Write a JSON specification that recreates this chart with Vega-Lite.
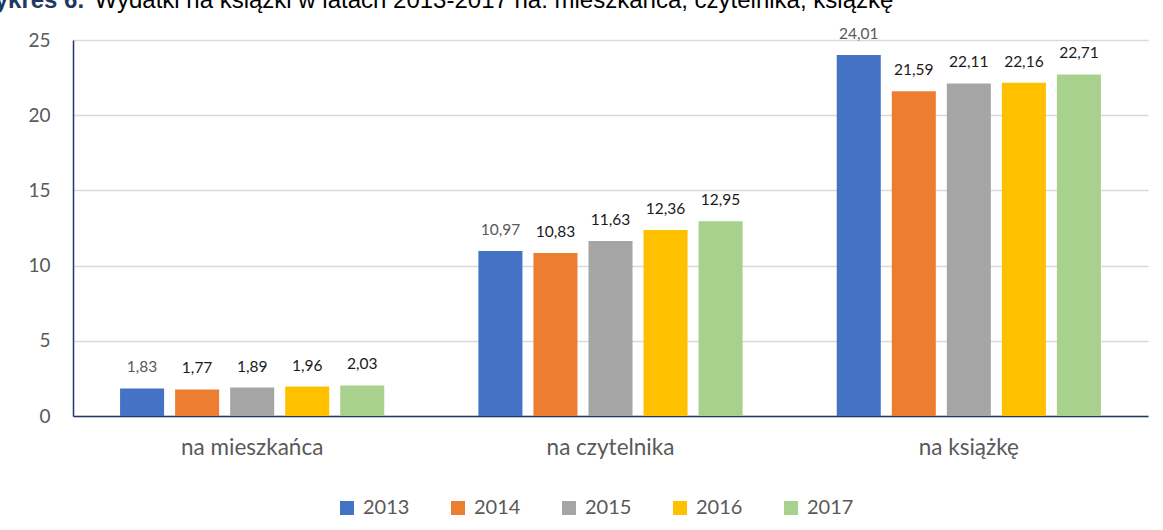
{
  "$schema": "https://vega.github.io/schema/vega-lite/v6.json",
  "autosize": {"type": "none"},
  "width": 1075,
  "height": 376,
  "padding": {"left": 73, "top": 40, "right": 15, "bottom": 114},
  "background": "#ffffff",
  "config": {
    "locale": {"number": {"decimal": ",", "thousands": " ", "grouping": [3], "currency": ["", " zł"]}},
    "view": {"stroke": null},
    "font": "Lato"
  },
  "data": {
    "values": [
      {"category": "na mieszkańca", "year": "2013", "value": 1.83},
      {"category": "na mieszkańca", "year": "2014", "value": 1.77},
      {"category": "na mieszkańca", "year": "2015", "value": 1.89},
      {"category": "na mieszkańca", "year": "2016", "value": 1.96},
      {"category": "na mieszkańca", "year": "2017", "value": 2.03},
      {"category": "na czytelnika", "year": "2013", "value": 10.97},
      {"category": "na czytelnika", "year": "2014", "value": 10.83},
      {"category": "na czytelnika", "year": "2015", "value": 11.63},
      {"category": "na czytelnika", "year": "2016", "value": 12.36},
      {"category": "na czytelnika", "year": "2017", "value": 12.95},
      {"category": "na książkę", "year": "2013", "value": 24.01},
      {"category": "na książkę", "year": "2014", "value": 21.59},
      {"category": "na książkę", "year": "2015", "value": 22.11},
      {"category": "na książkę", "year": "2016", "value": 22.16},
      {"category": "na książkę", "year": "2017", "value": 22.71}
    ]
  },
  "encoding": {
    "x": {"field": "category", "type": "nominal", "sort": null,
      "scale": {"paddingInner": 0, "paddingOuter": 0}},
    "xOffset": {"field": "year", "type": "nominal",
      "scale": {"paddingInner": 0.2, "paddingOuter": 0.855}},
    "y": {"field": "value", "type": "quantitative",
      "scale": {"domain": [0, 25], "nice": false}}
  },
  "layer": [
    {
      "mark": {"type": "bar"},
      "encoding": {
        "x": {"field": "category", "type": "nominal", "sort": null,
          "axis": {"orient": "bottom", "title": null, "labelAngle": 0, "ticks": false,
            "domainColor": "#203864", "domainWidth": 1.5, "labelFontSize": 22.5,
            "labelColor": "#595959", "labelPadding": 20, "labelFont": "Lato"}},
        "y": {"field": "value", "type": "quantitative",
          "axis": {"values": [0, 5, 10, 15, 20, 25], "ticks": false,
            "domainColor": "#203864", "domainWidth": 1.5,
            "gridColor": "#D9D9D9", "gridWidth": 1.5,
            "labelFontSize": 19, "labelColor": "#595959", "labelPadding": 23,
            "title": "Wykres 6.", "titleAngle": 0, "titleX": -101, "titleY": -33,
            "titleAlign": "left", "titleBaseline": "alphabetic",
            "titleFont": "Liberation Sans", "titleFontSize": 24, "titleFontWeight": "bold",
            "titleColor": "#1F3864"}},
        "color": {"field": "year", "type": "nominal",
          "scale": {"domain": ["2013", "2014", "2015", "2016", "2017"],
            "range": ["#4472C4", "#ED7D31", "#A5A5A5", "#FFC000", "#A9D18E"]},
          "legend": {"orient": "none", "legendX": 264, "legendY": 458,
            "direction": "horizontal", "columns": 5, "title": null,
            "symbolType": "square", "symbolSize": 196, "symbolStrokeWidth": 0,
            "labelFontSize": 20, "labelColor": "#595959", "labelOffset": 6,
            "columnPadding": 38, "padding": 0}}
      }
    },
    {
      "mark": {"type": "text", "baseline": "alphabetic", "dy": -16, "fontSize": 15.5},
      "encoding": {
        "x": {"field": "category", "type": "nominal", "sort": null,
          "axis": {"orient": "top", "labels": false, "ticks": false, "domain": false, "grid": false,
            "title": "Wydatki na książki w latach 2013-2017 na: mieszkańca, czytelnika, książkę",
            "titleX": 21, "titleY": -33, "titleAlign": "left", "titleAnchor": null,
            "titleBaseline": "alphabetic", "titleFont": "Liberation Sans", "titleFontSize": 24,
            "titleFontWeight": "normal", "titleColor": "#000000"}},
        "text": {"field": "value", "type": "quantitative", "format": ".2f"},
        "color": {"condition": {"test": "datum.year == '2013'", "value": "#595959"}, "value": "#1a1a1a"}
      }
    }
  ],
  "resolve": {"axis": {"x": "independent"}}
}
